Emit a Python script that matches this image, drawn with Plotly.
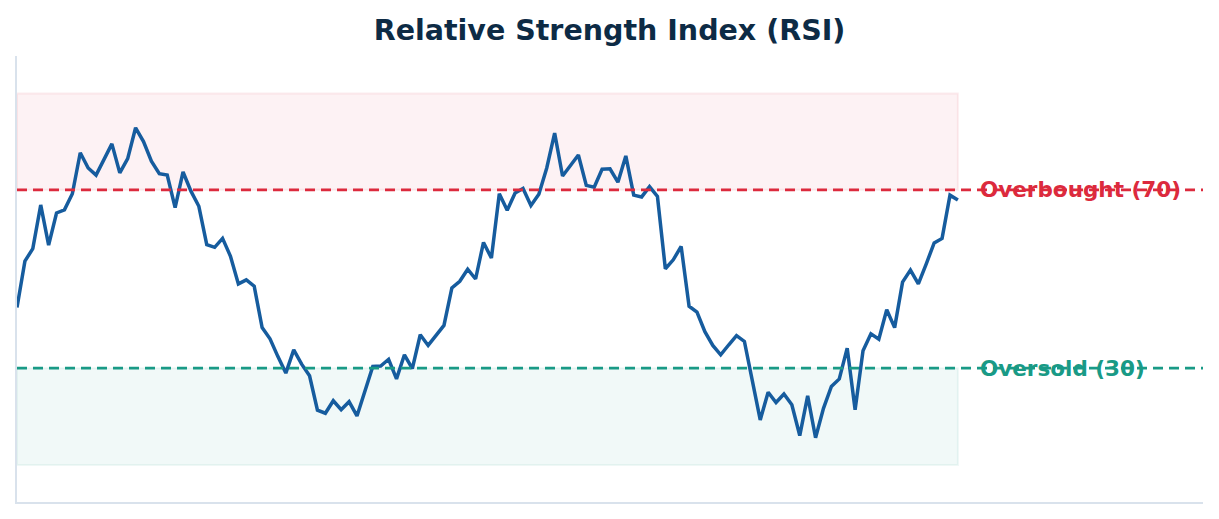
import plotly.graph_objects as go

rsi = [43.6, 54.0, 56.8, 66.6, 57.6, 64.8, 65.5, 69.1, 78.3, 74.9,
       73.3, 76.8, 80.3, 73.8, 77.0, 83.9, 80.8, 76.4, 73.6, 73.3,
       66.0, 74.0, 69.7, 66.3, 57.7, 57.1, 59.1, 55.1, 48.9, 49.8,
       48.4, 39.1, 36.6, 32.6, 28.9, 34.1, 30.9, 28.3, 20.6, 19.9,
       22.7, 20.7, 22.5, 19.3, 24.9, 30.4, 30.5, 32.0, 27.6, 33.0,
       29.9, 37.5, 35.1, 37.3, 39.6, 48.0, 49.5, 52.2, 50.0, 58.2,
       54.7, 69.1, 65.4, 69.3, 70.3, 66.5, 69.0, 74.9, 82.7, 73.1,
       75.3, 77.8, 71.0, 70.6, 74.6, 74.7, 71.7, 77.6, 68.8, 68.4,
       70.7, 68.5, 52.3, 54.3, 57.3, 43.9, 42.6, 38.2, 35.1, 33.0,
       35.2, 37.3, 36.0, 27.0, 18.4, 24.6, 22.3, 24.2, 21.8, 14.9,
       23.8, 14.4, 21.0, 25.9, 27.6, 34.5, 20.7, 33.9, 37.7, 36.5,
       43.1, 39.1, 49.3, 52.0, 48.9, 53.4, 58.1, 59.1, 68.8, 67.7]
days = list(range(len(rsi)))

overbought = 70
oversold = 30
ob_band = [70, 91.6]
os_band = [8.3, 30]
labels = ["Overbought (70)", "Oversold (30)"]

RED = "#dc2a3d"
TEAL = "#199a86"
LINE = "#165c9e"

fig = go.Figure()
fig.add_trace(go.Scatter(x=days, y=rsi, mode="lines",
                         line=dict(color=LINE, width=3.5), showlegend=False,
                         hoverinfo="skip"))

fig.add_shape(type="rect", xref="x", yref="y", x0=days[0], x1=days[-1],
              y0=ob_band[0], y1=ob_band[1], fillcolor="rgba(220,42,61,0.06)",
              line=dict(color="rgba(220,42,61,0.08)", width=2), layer="below")
fig.add_shape(type="rect", xref="x", yref="y", x0=days[0], x1=days[-1],
              y0=os_band[0], y1=os_band[1], fillcolor="rgba(25,154,134,0.06)",
              line=dict(color="rgba(25,154,134,0.07)", width=2), layer="below")

fig.add_shape(type="line", xref="paper", yref="y", x0=0, x1=1,
              y0=overbought, y1=overbought,
              line=dict(color=RED, width=2.8, dash="10px,6px"))
fig.add_shape(type="line", xref="paper", yref="y", x0=0, x1=1,
              y0=oversold, y1=oversold,
              line=dict(color=TEAL, width=2.8, dash="10px,6px"))

fig.add_annotation(x=days[-1] + 2.5, y=overbought, text=labels[0], showarrow=False,
                   xanchor="left", yanchor="middle",
                   font=dict(family="DejaVu Sans", size=21.5, color=RED, weight="bold"))
fig.add_annotation(x=days[-1] + 2.5, y=oversold, text=labels[1], showarrow=False,
                   xanchor="left", yanchor="middle",
                   font=dict(family="DejaVu Sans", size=21.5, color=TEAL, weight="bold"))

fig.update_layout(
    width=1219, height=519,
    margin=dict(l=17, r=16, t=56, b=17),
    paper_bgcolor="white", plot_bgcolor="white",
    title=dict(text="<b>Relative Strength Index (RSI)</b>", x=0.5, xanchor="center",
               y=0.942, yanchor="middle",
               font=dict(family="DejaVu Sans", size=28.5, color="#0d2b45")),
    xaxis=dict(range=[0, 150], showgrid=False, zeroline=False, showticklabels=False,
               ticks="", showline=True, linecolor="#d9e2ec", linewidth=2),
    yaxis=dict(range=[0, 100], showgrid=False, zeroline=False, showticklabels=False,
               ticks="", showline=True, linecolor="#d9e2ec", linewidth=2),
)

fig.write_html("out.html")
